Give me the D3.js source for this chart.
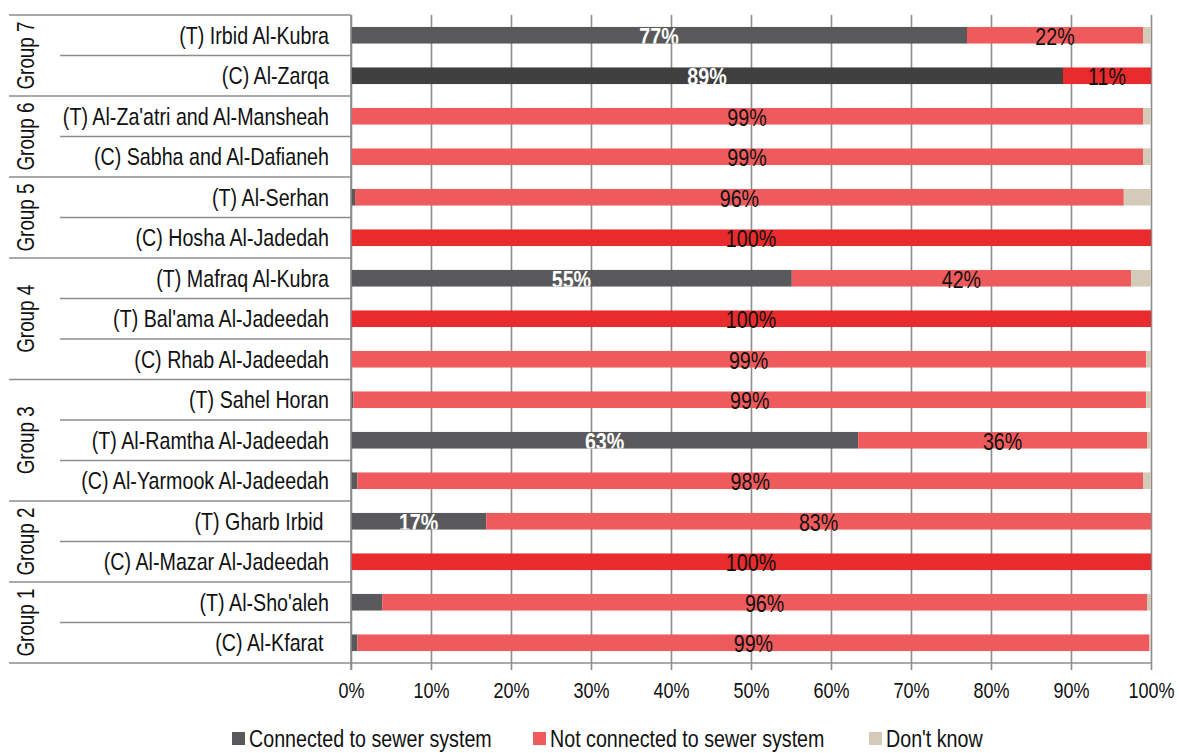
<!DOCTYPE html>
<html>
<head>
<meta charset="utf-8">
<script src="https://cdn.jsdelivr.net/npm/d3@7"></script>
<style>
  html, body { margin: 0; padding: 0; background: #fff; }
  svg { display: block; }
  text { font-family: "Liberation Sans", Arial, sans-serif; fill: #111; }
</style>
</head>
<body>
<svg id="chart" width="1180" height="753"></svg>
<script>
// Localities, listed top to bottom
const localities = [
  "(T) Irbid Al-Kubra", "(C) Al-Zarqa",
  "(T) Al-Za'atri and Al-Mansheah", "(C) Sabha and Al-Dafianeh",
  "(T) Al-Serhan", "(C) Hosha Al-Jadedah",
  "(T) Mafraq Al-Kubra", "(T) Bal'ama Al-Jadeedah", "(C) Rhab Al-Jadeedah",
  "(T) Sahel Horan", "(T) Al-Ramtha Al-Jadeedah", "(C) Al-Yarmook Al-Jadeedah",
  "(T) Gharb Irbid ", "(C) Al-Mazar Al-Jadeedah",
  "(T) Al-Sho'aleh", "(C) Al-Kfarat "
];
const groupOf = [
  "Group 7", "Group 7",
  "Group 6", "Group 6",
  "Group 5", "Group 5",
  "Group 4", "Group 4", "Group 4",
  "Group 3", "Group 3", "Group 3",
  "Group 2", "Group 2",
  "Group 1", "Group 1"
];
// Share of households (%)
const connected    = [77, 89, 0, 0, 0.5, 0, 55.1, 0, 0, 0.3, 63.4, 0.8, 16.9, 0, 3.9, 0.8];
const notConnected = [22, 11, 99, 99, 96.1, 100, 42.4, 100, 99.4, 99.1, 36.1, 98.2, 83.1, 100, 95.6, 99];
const dontKnow     = [1, 0, 1, 1, 3.4, 0, 2.5, 0, 0.6, 0.6, 0.5, 1.0, 0, 0, 0.5, 0.2];
// Rows drawn in the stronger tone
const emphasis = [false, true, false, false, false, true, false, true, false, false, false, false, false, true, false, false];
const seriesNames = ["Connected to sewer system", "Not connected to sewer system", "Don't know"];
const xTicks = [0, 10, 20, 30, 40, 50, 60, 70, 80, 90, 100];

const colors = {
  connected: "#59595b", connectedStrong: "#404040",
  notConnected: "#ef5a5c", notConnectedStrong: "#e82b2d",
  dontKnow: "#d3cbb8"
};
const lineColor = "#8c8c8c";
const NARROW = 0.82; // horizontal squeeze giving a condensed face

const svg = d3.select("#chart");
const m = { top: 15, left: 351, right: 1151, bottom: 663 };
const groupLeft = 9, rowLeft = 60;

const x = d3.scaleLinear().domain([0, 100]).range([m.left, m.right]);
const y = d3.scaleBand().domain(d3.range(localities.length)).range([m.top, m.bottom]).paddingInner(0.59).paddingOuter(0.295);
const rowStep = y.step();
const rowTop = i => y(i) - y.paddingInner() * rowStep / 2;

// Vertical gridlines with tick stubs below the plot
const xAxis = d3.axisBottom(x).tickValues(xTicks).tickFormat(d => d + "%").tickSize(m.bottom - m.top + 7).tickPadding(12);
const gx = svg.append("g").attr("transform", `translate(0,${m.top})`).call(xAxis);
gx.select(".domain").remove();
gx.selectAll(".tick line").attr("stroke", lineColor).attr("stroke-width", 1.6);
gx.selectAll(".tick text")
  .attr("font-size", 22).attr("fill", "#111")
  .attr("transform", function () {
    const ty = +d3.select(this).attr("y");
    d3.select(this).attr("y", 0);
    return `translate(0,${ty}) scale(${NARROW},1)`;
  })
  .style("font-family", "'Liberation Sans', Arial, sans-serif");

// Stacked segments
const rows = localities.map((name, i) => {
  const vals = [connected[i], notConnected[i], dontKnow[i]];
  let acc = 0;
  return vals.map((v, k) => {
    const seg = { i, k, v, x0: acc, x1: acc + v };
    acc += v;
    return seg;
  });
});
function segColor(s) {
  if (s.k === 0) return emphasis[s.i] ? colors.connectedStrong : colors.connected;
  if (s.k === 1) return emphasis[s.i] ? colors.notConnectedStrong : colors.notConnected;
  return colors.dontKnow;
}
const segs = rows.flat().filter(s => s.v > 0);
svg.append("g").selectAll("rect").data(segs).join("rect")
  .attr("x", s => x(s.x0))
  .attr("y", s => y(s.i))
  .attr("width", s => x(s.x1) - x(s.x0))
  .attr("height", y.bandwidth())
  .attr("fill", segColor);

// Horizontal separators in the category area and the base line
const sep = svg.append("g").attr("stroke", lineColor).attr("stroke-width", 1.6);
localities.forEach((_, i) => {
  const top = rowTop(i);
  const startsGroup = i === 0 || groupOf[i] !== groupOf[i - 1];
  sep.append("line").attr("x1", startsGroup ? groupLeft : rowLeft).attr("x2", m.left)
    .attr("y1", top).attr("y2", top);
});
sep.append("line").attr("x1", groupLeft).attr("x2", m.right).attr("y1", m.bottom).attr("y2", m.bottom);
sep.append("line").attr("x1", m.left).attr("x2", m.left).attr("y1", m.top).attr("y2", m.bottom + 7);

// Category labels
svg.append("g").selectAll("text").data(localities).join("text")
  .attr("transform", (d, i) => `translate(329,${y(i) + y.bandwidth() / 2}) scale(${NARROW},1)`)
  .attr("dy", "0.36em")
  .attr("text-anchor", "end")
  .attr("font-size", 24)
  .style("white-space", "pre")
  .text(d => d);

// Group labels, rotated and centred on their rows
const groups = d3.groups(localities.map((d, i) => i), i => groupOf[i]);
svg.append("g").selectAll("text").data(groups).join("text")
  .attr("transform", ([, idx]) => {
    const cy = (rowTop(idx[0]) + rowTop(idx[idx.length - 1]) + rowStep) / 2;
    return `translate(26,${cy}) rotate(-90) scale(${NARROW},1)`;
  })
  .attr("dy", "0.36em")
  .attr("text-anchor", "middle")
  .attr("font-size", 23)
  .text(([g]) => g);

// Value labels: white inside the grey segment (clipped to it), black on red
const labelled = segs.filter(s => s.k < 2 && s.v >= 5);
const defs = svg.append("defs");
labelled.forEach((s, n) => {
  if (s.k === 0) {
    defs.append("clipPath").attr("id", "clip" + n).append("rect")
      .attr("x", x(s.x0)).attr("y", y(s.i))
      .attr("width", x(s.x1) - x(s.x0)).attr("height", y.bandwidth());
  }
});
svg.append("g").selectAll("g").data(labelled).join("g")
  .attr("clip-path", (s, n) => s.k === 0 ? `url(#clip${n})` : null)
  .append("text")
  .attr("transform", s => `translate(${x((s.x0 + s.x1) / 2)},${y(s.i) + y.bandwidth() / 2 + 1}) scale(${NARROW},1)`)
  .attr("dy", "0.36em")
  .attr("text-anchor", "middle")
  .attr("font-size", 24)
  .style("fill", s => s.k === 0 ? "#ffffff" : "#111")
  .style("font-weight", s => s.k === 0 ? "bold" : "normal")
  .text(s => d3.format(".0f")(s.v) + "%");

// Legend
const legendItems = [
  { name: seriesNames[0], color: colors.connected, x: 232 },
  { name: seriesNames[1], color: colors.notConnected, x: 533 },
  { name: seriesNames[2], color: colors.dontKnow, x: 869 }
];
const lg = svg.append("g").selectAll("g").data(legendItems).join("g")
  .attr("transform", d => `translate(${d.x},732)`);
lg.append("rect").attr("width", 13).attr("height", 13).attr("fill", d => d.color);
lg.append("text")
  .attr("transform", `translate(17,6.5) scale(${NARROW},1)`)
  .attr("dy", "0.36em").attr("font-size", 24).text(d => d.name);
</script>
</body>
</html>
